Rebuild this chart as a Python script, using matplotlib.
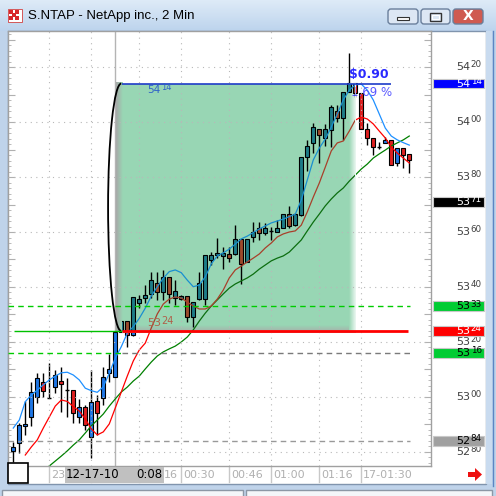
import matplotlib
matplotlib.use("Agg")
import matplotlib.pyplot as plt
from matplotlib.patches import Rectangle, FancyBboxPatch, Arc, Polygon
from matplotlib.transforms import offset_copy
import numpy as np

title = "S.NTAP - NetApp inc., 2 Min"

# 2 min bars
opens = [5280.5, 5283.4, 5289.5, 5292.6, 5300.1, 5305.6, 5300.0, 5303.7, 5305.8, 5302.6,
         5302.5, 5292.8, 5296.5, 5285.6, 5298.7, 5299.5, 5308.6, 5307.4, 5323.5, 5327.6,
         5322.5, 5334.3, 5336.0, 5337.5, 5341.3, 5338.3, 5343.7, 5335.9, 5335.5, 5336.7,
         5329.2, 5335.5, 5335.5, 5349.8, 5351.6, 5351.3, 5351.9, 5352.0, 5357.3, 5349.2,
         5358.3, 5361.3, 5359.5, 5360.5, 5360.1, 5361.3, 5366.4, 5362.5, 5366.2, 5387.2,
         5392.3, 5397.3, 5394.1, 5397.1, 5404.1, 5401.3, 5411.0, 5414.3, 5410.4, 5397.3,
         5394.1, 5391.1, 5392.3, 5393.5, 5385.2, 5390.4, 5388.4]
highs = [5283.7, 5290.4, 5298.5, 5305.6, 5308.6, 5308.6, 5312.5, 5309.8, 5311.0, 5306.8,
         5302.5, 5299.2, 5297.1, 5309.8, 5300.7, 5311.0, 5315.6, 5323.7, 5327.6, 5327.6,
         5336.5, 5337.1, 5340.7, 5345.6, 5345.6, 5346.2, 5343.7, 5342.5, 5337.0, 5336.7,
         5334.7, 5345.6, 5351.6, 5352.8, 5357.8, 5354.7, 5354.7, 5362.5, 5357.3, 5357.3,
         5363.7, 5363.7, 5363.2, 5361.9, 5364.4, 5366.4, 5369.5, 5367.0, 5387.2, 5393.5,
         5399.5, 5397.3, 5399.3, 5406.2, 5406.2, 5411.0, 5425.2, 5414.3, 5410.4, 5399.5,
         5394.1, 5392.8, 5394.4, 5393.5, 5390.4, 5390.4, 5388.4]
lows = [5276.3, 5279.7, 5286.2, 5289.5, 5297.9, 5299.9, 5299.5, 5301.3, 5294.7, 5292.8,
        5290.5, 5290.4, 5288.0, 5277.7, 5286.2, 5297.1, 5305.6, 5307.4, 5323.5, 5318.3,
        5322.0, 5332.3, 5334.1, 5335.9, 5335.3, 5335.3, 5334.1, 5333.5, 5335.3, 5327.4,
        5325.6, 5335.3, 5333.5, 5348.0, 5350.5, 5346.4, 5349.2, 5351.6, 5341.1, 5349.2,
        5356.5, 5357.1, 5358.9, 5357.1, 5360.1, 5361.3, 5361.3, 5362.2, 5366.0, 5382.3,
        5388.6, 5385.2, 5391.3, 5391.0, 5400.1, 5393.5, 5411.0, 5409.0, 5397.3, 5391.6,
        5388.0, 5390.1, 5392.3, 5384.4, 5384.0, 5383.2, 5381.3]
closes = [5281.7, 5289.8, 5290.0, 5301.7, 5306.8, 5302.3, 5299.6, 5308.0, 5304.6, 5302.4,
          5294.1, 5296.5, 5289.8, 5298.3, 5294.3, 5307.4, 5310.1, 5323.7, 5327.6, 5322.5,
          5336.5, 5335.5, 5337.1, 5342.5, 5338.3, 5343.7, 5337.5, 5338.5, 5336.7, 5329.2,
          5334.7, 5341.6, 5351.6, 5351.6, 5352.5, 5352.5, 5350.4, 5357.3, 5348.4, 5357.3,
          5360.1, 5359.5, 5361.3, 5360.4, 5361.3, 5366.4, 5362.2, 5366.4, 5387.2, 5391.3,
          5398.1, 5395.3, 5397.3, 5405.3, 5401.3, 5411.0, 5414.3, 5410.7, 5397.3, 5394.1,
          5391.0, 5391.0, 5393.5, 5384.4, 5390.4, 5388.0, 5386.2]

# moving averages as drawn on the chart
ma_fast = [5288.7, 5291.6, 5298.3, 5300.7, 5302.5, 5304.4, 5306.2, 5307.6, 5308.8, 5309.0,
           5308.0, 5306.2, 5303.2, 5302.3, 5301.7, 5303.7, 5308.6, 5314.1, 5318.3, 5323.2,
           5325.6, 5328.6, 5332.3, 5336.7, 5340.1, 5343.2, 5345.6, 5346.2, 5345.2, 5342.5,
           5340.1, 5340.7, 5343.7, 5348.4, 5351.3, 5352.4, 5353.8, 5355.6, 5357.5, 5358.5,
           5359.8, 5361.1, 5362.2, 5363.3, 5364.0, 5364.7, 5365.6, 5366.5, 5371.6, 5378.9,
           5386.2, 5390.5, 5393.8, 5398.2, 5402.9, 5408.0, 5411.6, 5413.5, 5413.8, 5411.6,
           5408.0, 5402.9, 5397.8, 5394.9, 5393.5, 5392.5, 5391.6]
ma_mid = [np.nan, np.nan, 5278.9, 5281.8, 5284.4, 5288.7, 5292.7, 5296.7, 5298.9, 5298.4,
          5296.5, 5294.9, 5292.0, 5288.4, 5286.2, 5287.3, 5290.2, 5296.0, 5301.8, 5307.6,
          5313.1, 5317.1, 5319.6, 5325.1, 5330.2, 5333.8, 5335.6, 5336.4, 5336.0, 5334.5,
          5333.1, 5332.0, 5332.0, 5333.1, 5335.6, 5338.9, 5343.3, 5346.2, 5347.6, 5349.1,
          5350.5, 5352.0, 5354.2, 5356.0, 5358.2, 5359.3, 5360.0, 5360.4, 5362.5, 5367.3,
          5372.7, 5377.8, 5383.6, 5389.5, 5392.4, 5393.1, 5396.7, 5400.7, 5401.8, 5401.1,
          5399.3, 5396.7, 5394.2, 5390.9, 5388.7, 5386.9, 5385.1]
ma_slow = [np.nan, np.nan, np.nan, np.nan, np.nan, np.nan, 5274.9, 5276.7, 5278.5, 5280.4,
           5282.5, 5284.4, 5286.9, 5289.5, 5291.6, 5293.8, 5296.7, 5299.3, 5301.8, 5303.6,
           5305.8, 5307.6, 5310.2, 5312.7, 5314.9, 5316.4, 5317.5, 5318.5, 5320.0, 5321.8,
           5324.4, 5327.6, 5330.5, 5333.1, 5335.3, 5337.5, 5339.6, 5341.1, 5342.2, 5343.3,
           5344.7, 5346.5, 5348.0, 5349.5, 5350.5, 5351.3, 5352.7, 5354.9, 5357.1, 5360.4,
           5363.6, 5366.5, 5369.5, 5372.0, 5374.2, 5376.0, 5378.5, 5380.7, 5382.9, 5384.7,
           5386.9, 5388.4, 5389.8, 5391.3, 5392.4, 5393.5, 5394.9]

price_ticks = [5280, 5300, 5320, 5340, 5360, 5380, 5400, 5420]
time_idx = [6, 13, 21, 28, 36, 43, 51, 58]
# only the parts not hidden by the cursor box
time_labels = ["23", "", "16", "00:30", "00:46", "01:00", "01:16", "17-01:30"]
cursor_idx = 17
cursor_date, cursor_time = "12-17-10", "0:08"

box_top, box_bottom = 5414, 5324
box_left, box_right = 18.1, 57.0
change_text = "\\$0.90"
pct_text = "1.69 %"

# right-axis markers: price, face, text colour
marks = [(5414, "#0000ff", "white"), (5371, "#000000", "white"), (5333, "#00cc33", "black"),
         (5324, "#ff0000", "white"), (5316, "#00cc33", "black"), (5284, "#a0a0a0", "black")]

W = H = 496
fig = plt.figure(figsize=(W / 100, H / 100), dpi=100)
fig.patch.set_facecolor("#bfd3ea")

# ---- window chrome (pixel coords, y down)
bg = fig.add_axes([0, 0, 1, 1])
bg.axis("off")
t = np.linspace(0, 1, 40)[:, None, None]
top_c = np.array([0.87, 0.92, 0.97])
bot_c = np.array([0.74, 0.83, 0.93])
bg.imshow(top_c + (bot_c - top_c) * t, extent=(0, W, 31, 0), aspect="auto", zorder=0)
bg.add_patch(Rectangle((0, 31), W, H - 31, fc="#bfd3ea", ec="none", zorder=0))
bg.add_patch(Rectangle((7.5, 30.5), 478, 453, fc="white", ec="#8094ad", lw=1, zorder=1))
bg.add_patch(Rectangle((486, 31), 6, 453, fc="#c9dbef", ec="none", zorder=1))
bg.plot([492.5, 492.5], [31, 486], color="#5b86c4", lw=1, zorder=2)
bg.add_patch(Rectangle((2, 490), 241, 10, fc="#f4f6f9", ec="#8c97a5", lw=1, zorder=1))
bg.add_patch(Rectangle((246, 490), 246, 10, fc="#f4f6f9", ec="#8c97a5", lw=1, zorder=1))
bg.text(28, 16, title, fontsize=9.5, family="Liberation Sans", color="black",
        va="center", ha="left", zorder=3)
# app icon
bg.add_patch(Rectangle((8, 9), 14, 13, fc="white", ec="#d04040", lw=0.6, zorder=2))
for bx, by in [(9, 10), (15, 10), (9, 16), (15, 16), (12, 13)]:
    bg.add_patch(Rectangle((bx, by), 4, 4, fc="#d8262a", ec="none", zorder=3))
# buttons
for x0, w, fc in [(388, 30, "#dde7f4"), (421, 29, "#dde7f4"), (453, 30, "#cf5a50")]:
    bg.add_patch(FancyBboxPatch((x0, 9), w, 15, boxstyle="round,pad=0,rounding_size=3",
                                fc=fc, ec="#6a7f9c", lw=1, zorder=2))
bg.add_patch(Rectangle((397, 17), 12, 3, fc="white", ec="#333333", lw=0.8, zorder=3))
bg.add_patch(Rectangle((430, 12.5), 11, 8, fc="none", ec="#333333", lw=1.0, zorder=3))
bg.add_patch(Rectangle((432, 14.5), 7, 4, fc="none", ec="white", lw=0.8, zorder=3))
bg.text(468, 16.5, "X", fontsize=10, fontweight="bold", color="white", ha="center",
        va="center", zorder=3)
# red arrow bottom right
bg.add_patch(Polygon([(468, 472), (475, 472), (475, 468), (482, 474.5), (475, 481),
                      (475, 477), (468, 477)], closed=True, fc="#ee1111", ec="none", zorder=3))
bg.set_xlim(0, W)
bg.set_ylim(H, 0)

# ---- price chart
L, R, T, B = 8, 431, 31, 466
ax = fig.add_axes([L / W, 1 - B / H, (R - L) / W, (B - T) / H])
ax.set_facecolor("white")
ax.set_zorder(2)
n = len(closes)
x = np.arange(n)
ax.set_xlim(-0.88, 69.62)
ax.set_ylim(5274.9, 5433.1)
for s in ax.spines.values():
    s.set_color("#a0a0a0")
    s.set_linewidth(1)
ax.set_xticks([])
ax.set_yticks(np.arange(5276, 5433, 2), minor=True)
ax.set_yticks(np.arange(5280, 5431, 10))
ax.tick_params(axis="y", which="both", direction="in", left=True, right=True,
               labelleft=False, labelright=False, color="#b0b0b0")
ax.tick_params(axis="y", which="major", length=5)
ax.tick_params(axis="y", which="minor", length=2)

# dotted grid (drawn over the green box too)
for p in price_ticks:
    ax.axhline(p, color="#b8b8b8", lw=0.8, ls=(0, (1, 4)), zorder=4.6)
for i in time_idx:
    ax.axvline(i, color="#b8b8b8", lw=0.8, ls=(0, (1, 4)), zorder=4.6)

# cursor line
ax.axvline(cursor_idx, color="#b4b4b4", lw=1, zorder=2)


def draw_candles(up_col, dn_col, z, clip=None):
    for i in range(n):
        o, h, l, c = opens[i], highs[i], lows[i], closes[i]
        wick = ax.vlines(i, l, h, color="black", lw=1, zorder=z)
        lo, hi = min(o, c), max(o, c)
        col = up_col if c >= o else dn_col
        if hi - lo < 0.4:
            body = ax.hlines((o + c) / 2, i - 0.34, i + 0.34, color="black", lw=1, zorder=z + 0.1)
        else:
            body = Rectangle((i - 0.34, lo), 0.68, hi - lo, fc=col, ec="black", lw=0.8,
                             zorder=z + 0.1)
            ax.add_patch(body)
        if clip is not None:
            wick.set_clip_path(clip)
            body.set_clip_path(clip)


def draw_mas(cols, z, clip=None):
    for vals, col in zip([ma_slow, ma_mid, ma_fast], cols):
        ln, = ax.plot(x, vals, color=col, lw=0.9, zorder=z)
        if clip is not None:
            ln.set_clip_path(clip)


def split_label(xp, yp, p, tr, color, big=8, small=6.3, z=9):
    # "5420" drawn as 54 with a raised, smaller 20
    s = str(p)
    ax.text(xp, yp, s[:2], transform=tr, fontsize=big, color=color, ha="right",
            va="center", clip_on=False, zorder=z)
    ax.text(xp, yp, s[2:], transform=offset_copy(tr, fig=fig, x=0.5, y=1.5, units="points"),
            fontsize=small, color=color, ha="left", va="center", clip_on=False, zorder=z)


draw_candles("#1f77e6", "#e02020", 3)
draw_mas(["#008000", "#ff0000", "#1e90ff"], 3.5)

# green box
green = "#98d6b4"
box = Rectangle((box_left, box_bottom), box_right - box_left, box_top - box_bottom,
                fc=green, ec="none", zorder=4)
ax.add_patch(box)
gc = np.array(matplotlib.colors.to_rgb(green))
gray = np.array([0.66, 0.66, 0.66])
g = np.linspace(0, 1, 30)
ax.imshow((gray + (gc - gray) * g[:, None])[None, :, :],
          extent=(box_left - 0.9, box_left + 0.25, box_bottom, box_top + 0.5),
          aspect="auto", zorder=4.2, interpolation="bilinear")
ax.imshow((gc + (gray - gc) * g[:, None])[:, None, :],
          extent=(box_left, box_right, box_bottom - 0.6, box_bottom + 2.2),
          aspect="auto", zorder=4.3, interpolation="bilinear", origin="upper")
wh = np.array([0.93, 0.97, 0.95])
ax.imshow((gc + (wh - gc) * g[:, None])[None, :, :],
          extent=(box_right - 1.0, box_right + 0.1, box_bottom, box_top),
          aspect="auto", zorder=4.3, interpolation="bilinear")
ax.set_xlim(-0.88, 69.62)
ax.set_ylim(5274.9, 5433.1)

draw_candles("#1d7c88", "#9c4a2c", 5, clip=box)
draw_mas(["#0c6e10", "#a8402a", "#1a8fd0"], 5.5, clip=box)

ax.add_patch(Arc((box_left - 0.1, (box_top + box_bottom) / 2), 4.4, box_top - box_bottom,
                 theta1=90, theta2=270, color="black", lw=1.3, zorder=6))

# level lines
ax.hlines(box_top, box_left, 62.95, color="#1e3cc8", lw=1.2, zorder=6)
ax.hlines(box_bottom, 0.1, box_left, color="#00c000", lw=1, zorder=6)
ax.hlines(box_bottom, box_left, 65.8, color="#ff0000", lw=2, zorder=6)
ax.hlines(5333, -0.88, 66.1, color="#00cc00", lw=1, ls=(0, (4, 3)), zorder=6)
ax.hlines(5316, -0.88, box_left, color="#00cc00", lw=1, ls=(0, (4, 3)), zorder=6)
ax.hlines(5316, box_left, 66.1, color="#7a7a7a", lw=1, ls=(0, (4, 3)), zorder=6)
ax.hlines(5284, -0.88, 66.1, color="#999999", lw=1, ls=(0, (4, 3)), zorder=6)

split_label(24.6, box_top - 2.3, box_top, ax.transData, "#2f62c8", big=7.5, small=6, z=7)
split_label(24.6, box_bottom + 2.8, box_bottom, ax.transData, "#b0604a", big=8, small=7, z=7)
ax.text(56.0, 5417.2, change_text, fontsize=9, fontweight="bold", color="#2a2aff",
        va="center", ha="left", zorder=4.8)
ax.text(56.3, 5410.9, pct_text, fontsize=8.5, color="#5a5aff", va="center", ha="left",
        zorder=4.8)

# right price axis labels
ytr = ax.get_yaxis_transform()
split_x = (470 - L) / (R - L)
for p in price_ticks:
    split_label(split_x, p, p, ytr, "#404040", z=7)
for p, fc, tc in marks:
    ax.add_patch(Rectangle((1 + 1.7 / (R - L), p - 1.8), 51 / (R - L), 3.6, transform=ytr,
                           fc=fc, ec="#c8c8c8", lw=0.8, clip_on=False, zorder=8))
    split_label(split_x, p, p, ytr, tc, z=9)

# time axis
xtr = ax.get_xaxis_transform()
ty = -9 / (B - T)
cw = 99 / (R - L) * 70.5
c0 = cursor_idx - cw / 2 - 0.2
for i, lab in zip(time_idx, time_labels):
    ax.plot([i, i], [-1 / (B - T), -16 / (B - T)], transform=xtr, color="#c8c8c8", lw=1,
            clip_on=False)
    xs = max(i + 0.3, c0 + cw + 0.05) if i > cursor_idx else i + 0.3
    ax.text(xs, ty, lab, transform=xtr, fontsize=8, color="#b0b0b0", ha="left",
            va="center", clip_on=False)
ax.add_patch(Rectangle((c0, -17 / (B - T)), cw, 16 / (B - T),
                       transform=xtr, fc="#c0c0c0", ec="none", clip_on=False, zorder=10))
ax.text(c0 + 0.15, ty, cursor_date, transform=xtr, fontsize=8.5, color="black",
        ha="left", va="center", clip_on=False, zorder=11)
ax.text(c0 + cw - 0.15, ty, cursor_time, transform=xtr, fontsize=8.5, color="black",
        ha="right", va="center", clip_on=False, zorder=11)

# small box bottom-left
ov = fig.add_axes([0, 0, 1, 1])
ov.axis("off")
ov.set_zorder(5)
ov.set_xlim(0, W)
ov.set_ylim(H, 0)
ov.add_patch(Rectangle((8, 462.5), 20, 20, fc="white", ec="black", lw=1.2))

fig.savefig("out.png", dpi=100, facecolor=fig.get_facecolor())
